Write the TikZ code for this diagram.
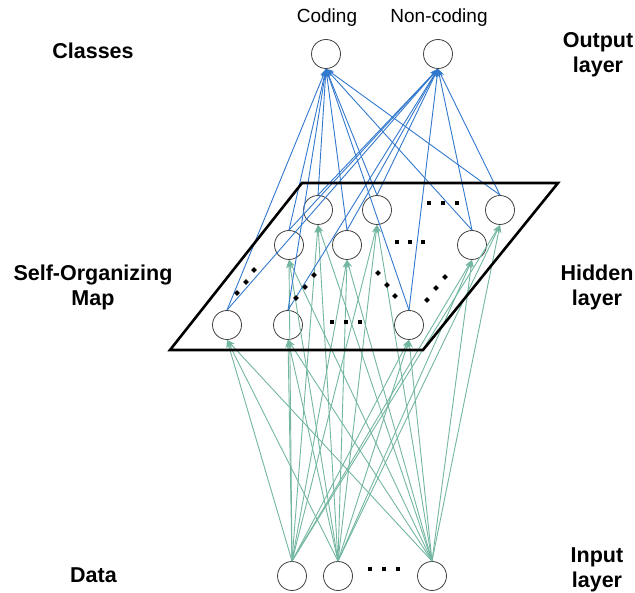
\documentclass[tikz,border=0pt]{standalone}
\usepackage{fontspec}
\setmainfont{Liberation Sans}
\usetikzlibrary{arrows.meta}
\definecolor{cblue}{RGB}{50,120,205}
\definecolor{cgreen}{RGB}{115,182,162}
\begin{document}
\begin{tikzpicture}[x=1pt,y=-1pt,
 neuron/.style={circle,draw=black!75,line width=0.8pt,minimum size=29pt,inner sep=0pt},
 boldlab/.style={font=\fontsize{21.5}{25}\selectfont\bfseries,align=center,inner sep=0pt,anchor=base},
 plainlab/.style={font=\fontsize{19}{22}\selectfont,inner sep=0pt,anchor=base},
 bconn/.style={cblue,line width=0.9pt,-{Stealth[length=8pt,width=6pt]}},
 gconn/.style={cgreen,line width=0.9pt,-{Stealth[length=8pt,width=6pt]}},
 sqdot/.style={rectangle,fill=black,minimum size=4.5pt,inner sep=0pt},
 diadot/.style={rectangle,fill=black,minimum size=4.2pt,inner sep=0pt,rotate=45}]
\useasboundingbox (0,0) rectangle (635,593);

% output layer
\node[neuron] (oc) at (326,54) {};
\node[neuron] (on) at (438,54) {};
\node[plainlab] (tc) at (327,22.5) {Coding};
\node[plainlab] (tn) at (439,22.5) {Non-coding};

% hidden layer
\node[neuron] (h11) at (318,210) {};
\node[neuron] (h12) at (377,210) {};
\node[neuron] (h13) at (500,210) {};
\node[neuron] (h21) at (289,245) {};
\node[neuron] (h22) at (347,245) {};
\node[neuron] (h23) at (472,245) {};
\node[neuron] (h31) at (227,325) {};
\node[neuron] (h32) at (288,325) {};
\node[neuron] (h33) at (409,325) {};

% input layer
\node[neuron] (i1) at (292,576) {};
\node[neuron] (i2) at (338,576) {};
\node[neuron] (i3) at (432,576) {};

% connectors
\foreach \h in {h11,h12,h13,h21,h22,h23,h31,h32,h33}{
  \foreach \o in {oc,on}{
    \draw[bconn] (\h.north) -- (\o.south);
  }
  \foreach \i in {i1,i2,i3}{
    \draw[gconn] (\i.north) -- (\h.south);
  }
}

% SOM plane
\coordinate (p1) at (302,183);
\coordinate (p2) at (558,183);
\coordinate (p3) at (423,350);
\coordinate (p4) at (170,350);
\draw[line width=2.6pt,line join=miter] (p1) -- (p2) -- (p3) -- (p4) -- cycle;

% ellipsis dots (squares)
\foreach \x/\y [count=\n] in {429/203,443/203,457/203, 397/242,410/242,423/242,
  332/322,346/322,360/322, 370/569,384/569,398/569}{
  \node[sqdot] (sq\n) at (\x,\y) {};
}
% diagonal dots
\foreach \x/\y [count=\n] in {237/293,246/282,254/270, 296/298,305/287,314/275,
  378/273,387/285,395/296, 427/300,436/288,445/277}{
  \node[diadot] (dd\n) at (\x,\y) {};
}

% side labels
\node[boldlab] (classes) at (93,59) {Classes};
\node[boldlab] (outl) at (598,73) {Output\\layer};
\node[boldlab] (som) at (93,306) {Self-Organizing\\Map};
\node[boldlab] (hidl) at (597,306) {Hidden\\layer};
\node[boldlab] (data) at (93.5,582) {Data};
\node[boldlab] (inl) at (597,587) {Input\\layer};
\end{tikzpicture}
\end{document}
